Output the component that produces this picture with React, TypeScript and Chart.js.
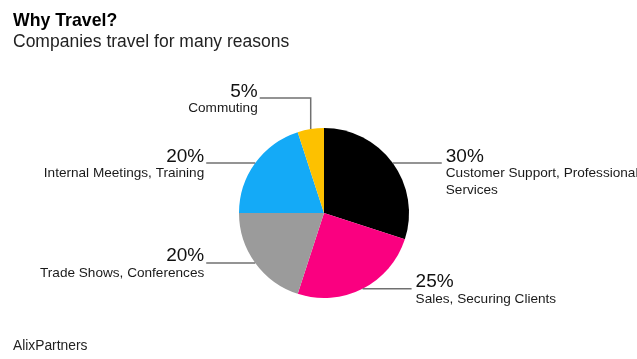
import React, { useEffect, useRef } from "react";
import { Chart, registerables } from "chart.js";

Chart.register(...registerables);

const title = "Why Travel?";
const subtitle = "Companies travel for many reasons";
const source = "AlixPartners";

const categories: string[][] = [
  ["Customer Support, Professional", "Services"],
  ["Sales, Securing Clients"],
  ["Trade Shows, Conferences"],
  ["Internal Meetings, Training"],
  ["Commuting"],
];
const shares: number[] = [30, 25, 20, 20, 5];
const sliceColors: string[] = ["#000000", "#fa0080", "#9b9b9b", "#14aaf7", "#fdc100"];

// leader line styling (pixel lengths, not data)
const leaderRun: number[] = [49, 49, 49, 49, 51];
const leaderRise: number[] = [0, 0, 0, 0, 31];

const FONT = "'Liberation Sans', Arial, Helvetica, sans-serif";

const labelPlugin = {
  id: "pieLabels",
  afterDraw(chart: any) {
    const ctx = chart.ctx;
    const meta = chart.getDatasetMeta(0);
    ctx.save();
    // header and footer
    ctx.fillStyle = "#000";
    ctx.textAlign = "left";
    ctx.textBaseline = "alphabetic";
    ctx.font = `bold 17.7px ${FONT}`;
    ctx.fillText(title, 13, 26);
    ctx.fillStyle = "#222";
    ctx.font = `17.5px ${FONT}`;
    ctx.fillText(subtitle, 13, 47);
    ctx.font = `13.8px ${FONT}`;
    ctx.fillText(source, 13, 350);

    meta.data.forEach((arc: any, i: number) => {
      const p = arc.getProps(["x", "y", "startAngle", "endAngle", "outerRadius"], true);
      const mid = (p.startAngle + p.endAngle) / 2;
      const ax = p.x + Math.cos(mid) * p.outerRadius;
      const ay = p.y + Math.sin(mid) * p.outerRadius;
      const right = Math.cos(mid) >= 0 && leaderRise[i] === 0;
      const dir = right ? 1 : -1;
      const elbowY = ay - leaderRise[i];
      const endX = ax + dir * leaderRun[i];
      const endY = elbowY;
      ctx.strokeStyle = "#707070";
      ctx.lineWidth = 1.5;
      ctx.beginPath();
      ctx.moveTo(ax, ay);
      if (leaderRise[i] > 0) ctx.lineTo(ax, elbowY);
      ctx.lineTo(endX, endY);
      ctx.stroke();

      const tx = right ? endX + 4 : endX - 2;
      ctx.textAlign = right ? "left" : "right";
      ctx.fillStyle = "#111";
      ctx.font = `19px ${FONT}`;
      ctx.fillText(`${shares[i]}%`, tx, endY - 1.5);
      ctx.font = `13.6px ${FONT}`;
      ctx.fillStyle = "#1a1a1a";
      categories[i].forEach((line, k) => {
        ctx.fillText(line, tx, endY + 14 + k * 16.5);
      });
    });
    ctx.restore();
  },
};

export default function App() {
  const ref = useRef<HTMLCanvasElement | null>(null);
  useEffect(() => {
    document.body.style.margin = "0";
    const chart = new Chart(ref.current as HTMLCanvasElement, {
      type: "pie",
      data: {
        labels: categories,
        datasets: [
          {
            data: shares,
            backgroundColor: sliceColors,
            borderWidth: 0,
            hoverOffset: 0,
          },
        ],
      },
      options: {
        responsive: false,
        animation: false,
        devicePixelRatio: 1,
        layout: { padding: { left: 239, right: 228, top: 128, bottom: 61 } },
        plugins: {
          legend: { display: false },
          tooltip: { enabled: false },
          title: { display: false },
        },
      },
      plugins: [labelPlugin],
    });
    return () => chart.destroy();
  }, []);
  return (
    <div style={{ position: "fixed", left: 0, top: 0, width: 637, height: 359, background: "#fff" }}>
      <canvas ref={ref} width={637} height={359} />
    </div>
  );
}
